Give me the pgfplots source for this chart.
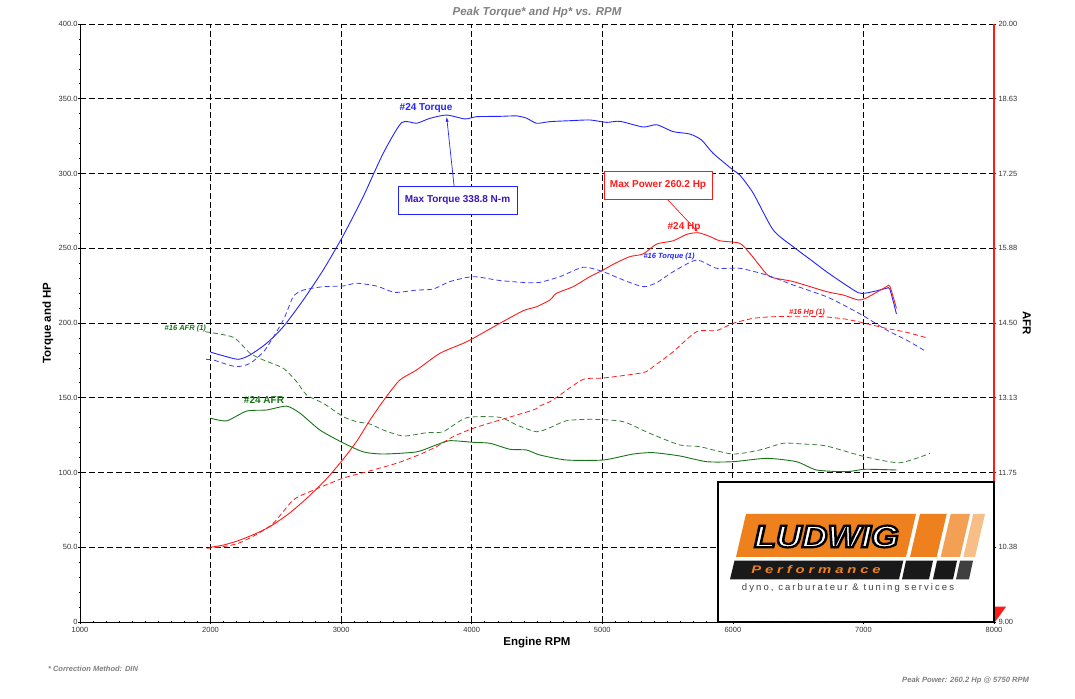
\documentclass[border=0pt]{standalone}
\usepackage{fontspec}
\setmainfont{Liberation Sans}
\usepackage{pgfplots}
\pgfplotsset{compat=1.18}
\usetikzlibrary{arrows.meta}
\definecolor{tblue}{RGB}{35,35,255}
\definecolor{tblued}{RGB}{60,60,245}
\definecolor{tred}{RGB}{255,25,25}
\definecolor{tgreen}{RGB}{25,115,25}
\definecolor{tgreend}{RGB}{55,125,55}
\definecolor{boxtxt}{RGB}{60,20,190}
\definecolor{lorange}{RGB}{238,128,30}
\definecolor{lorange2}{RGB}{243,160,85}
\definecolor{lorange3}{RGB}{247,190,135}
\definecolor{ldark}{RGB}{25,25,25}
\begin{document}
\begin{tikzpicture}[x=1pt,y=1pt]
\useasboundingbox (-80,-76) rectangle (995,622);
\pgfplotsset{mystyle/.style={width=914pt,height=598pt,scale only axis,
  at={(0,0)},anchor=south west,xmin=1000,xmax=8000,
  tick label style={font=\fontsize{7.5}{8}\selectfont,text=black!80},
  /pgf/number format/assume math mode=true,
  tick align=outside,major tick length=4pt,minor tick length=2.5pt,
  tick style={black,line width=0.6pt}}}
\begin{axis}[mystyle,ymin=0,ymax=400,
  axis x line=bottom,axis y line=left,
  axis line style={-,black,line width=1pt},
  xtick={1000,2000,3000,4000,5000,6000,7000,8000},
  xticklabels={1000,2000,3000,4000,5000,6000,7000,8000},
  minor x tick num=9,
  ytick={0,50,100,150,200,250,300,350,400},
  yticklabels={0,50.0,100.0,150.0,200.0,250.0,300.0,350.0,400.0},
  yticklabel style={xshift=3pt},
  minor y tick num=4,
  grid=major,
  major grid style={black,line width=0.8pt,dash pattern=on 6pt off 3pt},
  xlabel={Engine RPM},
  every axis x label/.style={at={(axis description cs:0.5,-0.035)},anchor=center,font=\bfseries\fontsize{11.5}{13}\selectfont},
  ylabel={Torque and HP},
  every axis y label/.style={at={(axis description cs:-0.035,0.5)},rotate=90,anchor=center,font=\bfseries\fontsize{11.5}{13}\selectfont},
  clip=false]
% #24 Torque
\addplot[tblue,line width=0.9pt,smooth,tension=0.4] coordinates {
(2000,180.5)(2100,178)(2212,175.7)(2300,178.5)(2429,186.4)(2557,197.5)(2710,215.4)
(2863,235.5)(3011,257.7)(3169,284.5)(3322,313.5)(3463,334)(3578,333.6)(3680,336.9)
(3808,339.1)(3948,336.5)(4037,338)(4200,338.2)(4344,338.5)(4420,337)(4497,333.6)
(4599,334.7)(4750,335.3)(4905,335.8)(5033,334.2)(5135,334.9)(5313,331.1)(5416,332.6)
(5543,328)(5671,326.4)(5760,322.4)(5849,313.5)(6002,302.3)(6053,299)(6156,286.8)
(6309,262.2)(6462,251)(6600,242)(6717,234.3)(6845,226.6)(6959,220.3)(7011,219.9)
(7100,221.5)(7177,223.2)(7202,222.7)(7253,206)};
% #24 Hp
\addplot[tred,line width=0.9pt,smooth,tension=0.4] coordinates {
(2000,50)(2100,51.5)(2212,54.4)(2330,58.5)(2455,63.8)(2600,72.5)(2736,82.7)(2880,95)
(3011,108.4)(3120,121)(3221,135.1)(3340,150)(3450,161.9)(3578,168.6)(3756,179.7)
(3935,186.4)(4012,189.8)(4216,199.8)(4394,208.2)(4497,210.9)(4599,215.4)(4650,219.9)
(4777,224.3)(4905,231)(5007,235.5)(5100,240)(5211,244.4)(5313,246.2)(5416,252.8)
(5543,255)(5646,259.3)(5734,260.4)(5820,258)(5900,255)(6053,253.3)(6130,246.6)
(6200,239)(6283,231)(6462,227.7)(6717,221)(6845,218.7)(6959,215.4)(7011,216.3)
(7100,220.5)(7177,224.3)(7202,224.7)(7253,209.8)};
% #16 Torque (1)
\addplot[tblued,line width=0.8pt,dash pattern=on 5pt off 3pt,smooth,tension=0.4] coordinates {
(1965,175.7)(2021,175.3)(2100,173)(2199,170.8)(2302,173)(2417,182)(2557,202)(2633,217.6)
(2710,222)(2863,224.3)(3011,224.7)(3118,226.6)(3271,224.7)(3412,220.5)(3578,222)
(3705,222.7)(3833,227.7)(4012,231)(4216,228.4)(4420,227)(4522,227.2)(4675,231)
(4854,237.3)(5007,234.3)(5160,228.8)(5313,224.3)(5416,227)(5543,234.3)(5722,242.1)
(5875,236.6)(6053,236.6)(6258,232.1)(6462,225.4)(6717,217.6)(6896,209.8)(7011,204.2)
(7177,195.3)(7330,188.6)(7483,180.8)};
% #16 Hp (1)
\addplot[tred,line width=0.8pt,dash pattern=on 5pt off 3pt,smooth,tension=0.4] coordinates {
(1970,49.3)(2100,50.5)(2212,52.6)(2350,58.5)(2480,66)(2633,81.6)(2761,87.2)(3011,96.1)
(3195,100.5)(3425,106.2)(3600,112)(3731,117.3)(3858,124)(4012,129.6)(4216,135.1)
(4471,141.8)(4522,144.5)(4599,147.4)(4675,151.8)(4854,162.3)(5007,163.2)(5313,166.8)
(5390,170.8)(5543,180.8)(5722,194.2)(5875,194.9)(6002,199.8)(6156,203.1)(6309,204.2)
(6500,204.5)(6692,204.2)(6870,202.5)(7011,199.8)(7177,196.4)(7330,193.8)(7496,189.8)};
% title
\node[font=\bfseries\itshape\fontsize{11.5}{13}\selectfont,text=black!50] at (axis description cs:0.5,1.0184) {Peak Torque* and Hp* vs. RPM};
% annotations
\node[font=\bfseries\fontsize{10}{12}\selectfont,text=tblue] at (axis cs:3650,343.8) {\#24 Torque};
\draw[tblue,line width=0.7pt,-{Latex[length=5pt,width=3pt]}] (axis cs:3865,291.6) -- (axis cs:3808,338);
\node[draw=tblue,fill=white,line width=0.8pt,minimum width=119pt,minimum height=28pt,inner sep=0pt,
  font=\bfseries\fontsize{10}{12}\selectfont,text=boxtxt] at (axis cs:3891,282.3) {Max Torque 338.8 N-m};
\draw[tred,line width=0.7pt,-{Latex[length=4pt,width=3pt]}] (axis cs:5496,282.9) -- (axis cs:5733,260.9);
\node[draw=tred,fill=white,line width=0.8pt,minimum width=108pt,minimum height=28pt,inner sep=0pt,
  font=\bfseries\fontsize{10}{12}\selectfont,text=tred] at (axis cs:5427,292.3) {Max Power 260.2 Hp};
\node[font=\bfseries\fontsize{10}{12}\selectfont,text=tred] at (axis cs:5626,263.9) {\#24 Hp};
\node[font=\bfseries\itshape\fontsize{7.5}{9}\selectfont,text=tblue] at (axis cs:5511,244.6) {\#16 Torque (1)};
\node[font=\bfseries\itshape\fontsize{7.5}{9}\selectfont,text=tred] at (axis cs:6568,207.2) {\#16 Hp (1)};
\node[font=\bfseries\itshape\fontsize{7.5}{9}\selectfont,text=tgreen] at (axis cs:1807,196.5) {\#16 AFR (1)};
\node[font=\bfseries\fontsize{10}{12}\selectfont,text=tgreen] at (axis cs:2409,148.5) {\#24 AFR};
\end{axis}
\begin{axis}[mystyle,ymin=9,ymax=20,
  axis x line=none,axis y line=right,
  axis line style={-,tred,line width=1.5pt},
  ytick={9,10.375,11.75,13.125,14.5,15.875,17.25,18.625,20},
  yticklabels={9.00,10.38,11.75,13.13,14.50,15.88,17.25,18.63,20.00},
  yticklabel style={xshift=-1pt},
  minor y tick num=4,
  ylabel={AFR},
  every axis y label/.style={at={(axis description cs:1.036,0.5)},rotate=-90,anchor=center,font=\bfseries\fontsize{11.5}{13}\selectfont}]
% #24 AFR
\addplot[tgreen,line width=0.9pt,smooth,tension=0.4] coordinates {
(2000,12.75)(2123,12.70)(2276,12.88)(2429,12.90)(2582,12.97)(2685,12.84)(2838,12.53)
(3011,12.30)(3169,12.13)(3322,12.09)(3578,12.13)(3731,12.26)(3833,12.335)(4012,12.305)
(4140,12.287)(4293,12.177)(4420,12.164)(4522,12.072)(4726,11.98)(5007,11.98)(5237,12.09)
(5390,12.115)(5594,12.054)(5799,11.949)(6002,11.949)(6258,12.01)(6487,11.949)(6641,11.796)
(6870,11.765)(7011,11.809)(7253,11.796)};
% #16 AFR (1)
\addplot[tgreend,line width=0.8pt,dash pattern=on 5pt off 3pt,smooth,tension=0.4] coordinates {
(1957,14.34)(2174,14.237)(2302,13.943)(2404,13.82)(2557,13.667)(2659,13.42)(2736,13.176)
(2863,13.023)(3016,12.777)(3118,12.685)(3221,12.642)(3322,12.532)(3476,12.421)(3654,12.482)
(3782,12.5)(3961,12.758)(4216,12.765)(4344,12.624)(4497,12.5)(4599,12.574)(4726,12.703)
(4930,12.728)(5160,12.685)(5364,12.47)(5594,12.256)(5747,12.225)(5997,12.09)(6206,12.164)
(6385,12.287)(6538,12.274)(6717,12.237)(7011,12.04)(7279,11.93)(7508,12.10)};
\end{axis}
% red marker at the AFR axis foot
\fill[tred] (915,15.3) -- (926,15.3) -- (915,0) -- cycle;
% logo box
\filldraw[fill=white,draw=black,line width=1.2pt] (638,0) rectangle (914,140);
\fill[lorange] (656,65) -- (666,108) -- (836,108) -- (826,65) -- cycle;
\fill[lorange] (830,65) -- (840,108) -- (866.7,108) -- (856.7,65) -- cycle;
\fill[lorange2] (860.7,65) -- (870.7,108) -- (890,108) -- (880,65) -- cycle;
\fill[lorange3] (883.3,65) -- (893.3,108) -- (905,108) -- (895,65) -- cycle;
\fill[ldark] (650,42.7) -- (654.5,61.3) -- (823.3,61.3) -- (819,42.7) -- cycle;
\fill[ldark] (822,42.7) -- (826,61.3) -- (853,61.3) -- (849,42.7) -- cycle;
\fill[ldark] (853,42.7) -- (857,61.3) -- (877,61.3) -- (873,42.7) -- cycle;
\fill[black!75] (876,42.7) -- (880,61.3) -- (893,61.3) -- (889,42.7) -- cycle;
\node[xscale=1.15,font=\bfseries\itshape\fontsize{31}{33}\selectfont,text=white] at (746.5,85.5)
  {\special{pdf:literal direct 2 Tr 2.2 w 0 G}LUDWIG\special{pdf:literal direct 0 Tr}};
\node[xscale=1.35,font=\bfseries\itshape\fontsize{11}{12}\selectfont,text=lorange] at (736,52) {\addfontfeature{LetterSpace=26}Performance};
\node[font=\fontsize{9.5}{11}\selectfont,text=black!75] at (768,34) {\addfontfeature{LetterSpace=22}dyno, carburateur \& tuning services};
% footnotes
\node[font=\bfseries\itshape\fontsize{7.5}{9}\selectfont,text=black!50] at (13,-47) {* Correction Method: DIN};
\node[font=\bfseries\itshape\fontsize{7.6}{9}\selectfont,text=black!50] at (885.6,-59) {Peak Power: 260.2 Hp @ 5750 RPM};
\end{tikzpicture}
\end{document}
